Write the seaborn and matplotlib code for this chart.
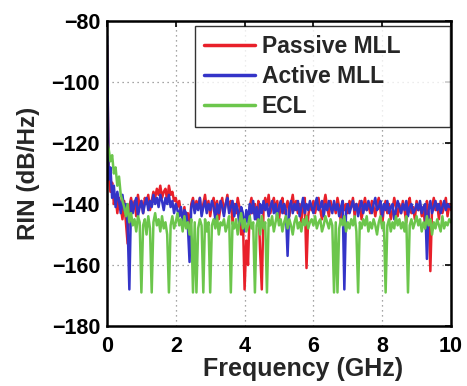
import numpy as np
import pandas as pd
import matplotlib
matplotlib.use("Agg")
import matplotlib.pyplot as plt
import seaborn as sns

# ---------------- data ----------------
freq_ghz = [round(0.05 * i, 2) for i in range(201)]

passive_mll = [
    -88, -130, -136, -133, -140, -137, -143, -138, -141, -145,
    -139, -146, -153, -141, -138, -142, -139, -144, -137, -141,
    -139, -143, -138, -140, -137, -142, -139, -136, -138, -135,
    -137, -134, -138, -136, -135, -139, -134, -137, -136, -139,
    -138, -141, -139, -143, -145, -141, -146, -143, -148, -140,
    -138, -142, -139, -141, -138, -143, -140, -137, -142, -139,
    -144, -140, -138, -142, -139, -145, -141, -138, -143, -140,
    -137, -142, -139, -146, -140, -143, -138, -141, -150, -144,
    -168, -152, -160, -141, -138, -143, -140, -145, -139, -155,
    -168, -142, -138, -141, -137, -143, -140, -138, -142, -139,
    -145, -140, -138, -143, -141, -139, -144, -140, -137, -142,
    -139, -143, -140, -146, -141, -138, -161, -144, -140, -142,
    -139, -143, -140, -138, -142, -145, -140, -137, -141, -144,
    -139, -142, -140, -143, -138, -141, -146, -139, -142, -140,
    -143, -139, -141, -138, -144, -140, -142, -139, -145, -141,
    -138, -142, -140, -143, -139, -141, -144, -140, -138, -142,
    -147, -141, -139, -143, -140, -145, -142, -138, -141, -144,
    -140, -143, -139, -142, -146, -140, -138, -143, -141, -145,
    -139, -142, -140, -144, -141, -148, -139, -143, -162, -141,
    -138, -142, -140, -145, -139, -143, -141, -138, -144, -140,
    -142,
]

active_mll = [
    -85, -132, -128, -138, -134, -141, -136, -139, -143, -137,
    -142, -140, -147, -168, -139, -143, -140, -138, -144, -141,
    -139, -143, -140, -138, -142, -139, -141, -137, -140, -138,
    -141, -137, -139, -142, -138, -140, -137, -141, -139, -143,
    -140, -142, -144, -141, -146, -142, -143, -147, -159, -141,
    -139, -143, -140, -142, -138, -144, -141, -139, -143, -140,
    -142, -139, -141, -145, -140, -143, -139, -141, -144, -140,
    -138, -143, -141, -139, -144, -140, -142, -147, -141, -143,
    -149, -142, -146, -140, -143, -139, -145, -141, -147, -140,
    -143, -139, -142, -140, -144, -141, -139, -143, -140, -145,
    -141, -139, -143, -140, -142, -157, -141, -139, -143, -140,
    -142, -139, -144, -141, -138, -143, -140, -142, -139, -141,
    -143, -140, -138, -142, -141, -139, -144, -140, -142, -139,
    -141, -143, -139, -142, -140, -144, -141, -139, -168, -142,
    -140, -143, -141, -139, -142, -140, -144, -141, -139, -143,
    -140, -142, -139, -141, -143, -140, -138, -142, -141, -139,
    -144, -140, -142, -139, -143, -141, -140, -145, -142, -139,
    -141, -143, -140, -142, -139, -144, -141, -140, -143, -142,
    -140, -142, -139, -143, -141, -140, -158, -142, -139, -143,
    -141, -139, -142, -140, -143, -141, -139, -142, -140, -141,
    -141,
]

ecl = [
    -120, -122, -126, -124, -130, -128, -134, -131, -137, -139,
    -141, -144, -140, -146, -143, -147, -145, -149, -144, -146,
    -169, -147, -145, -150, -144, -148, -169, -146, -143, -147,
    -145, -149, -144, -148, -146, -150, -169, -147, -144, -148,
    -146, -143, -147, -145, -149, -144, -148, -146, -150, -145,
    -169, -146, -169, -148, -145, -147, -169, -145, -149, -146,
    -169, -147, -145, -148, -144, -150, -146, -147, -145, -149,
    -147, -144, -169, -146, -148, -145, -150, -146, -143, -148,
    -145, -149, -147, -144, -148, -146, -169, -147, -145, -150,
    -144, -148, -146, -169, -145, -147, -144, -149, -146, -143,
    -147, -145, -149, -146, -144, -148, -145, -147, -150, -146,
    -144, -148, -146, -149, -145, -147, -144, -148, -146, -145,
    -147, -144, -148, -146, -145, -149, -147, -144, -146, -148,
    -145, -147, -169, -146, -169, -148, -145, -147, -144, -149,
    -146, -148, -145, -147, -144, -149, -169, -146, -148, -145,
    -147, -144, -149, -146, -148, -145, -147, -150, -146, -144,
    -148, -146, -169, -147, -145, -149, -146, -148, -144, -147,
    -145, -148, -146, -149, -144, -169, -147, -145, -148, -146,
    -144, -147, -145, -149, -146, -148, -144, -147, -145, -150,
    -146, -148, -145, -147, -149, -144, -148, -146, -147, -145,
    -146,
]

series_names = ["Passive MLL", "Active MLL", "ECL"]
series_colors = ["#e8202a", "#3434c8", "#6cc64c"]
x_ticks = [0, 2, 4, 6, 8, 10]
y_ticks = [-180, -160, -140, -120, -100, -80]

df = pd.DataFrame({
    "Frequency": freq_ghz * 3,
    "RIN": passive_mll + active_mll + ecl,
    "Laser": [series_names[0]] * len(freq_ghz)
             + [series_names[1]] * len(freq_ghz)
             + [series_names[2]] * len(freq_ghz),
})

# ---------------- style ----------------
sns.set_style("white")
plt.rcParams["font.family"] = ["Liberation Sans", "DejaVu Sans"]
plt.rcParams["font.weight"] = "bold"
plt.rcParams["axes.unicode_minus"] = True

fig = plt.figure(figsize=(4.67, 3.86), dpi=100)
ax = fig.add_axes([0.2291, 0.1554, 0.7366, 0.7902])

sns.lineplot(data=df, x="Frequency", y="RIN", hue="Laser",
             hue_order=series_names, palette=series_colors,
             estimator=None, sort=False, linewidth=1.8, ax=ax)

ax.set_xlim(0, 10)
ax.set_ylim(-180, -80)
ax.set_xticks(x_ticks)
ax.set_yticks(y_ticks)
ax.set_xticklabels([str(t) for t in x_ticks], fontsize=15.5, fontweight="bold")
ax.set_yticklabels([str(t).replace("-", "\u2212") for t in y_ticks],
                   fontsize=15.5, fontweight="bold")
ax.set_xlabel("Frequency (GHz)", fontsize=18, fontweight="bold")
ax.set_ylabel("RIN (dB/Hz)", fontsize=17.5, fontweight="bold")
ax.xaxis.set_label_coords(0.569, -0.101)
ax.yaxis.set_label_coords(-0.195, 0.5)

ax.grid(True, linestyle=(0, (1, 3)), color="#888888", linewidth=0.9)
ax.tick_params(axis="both", direction="in", length=4, width=1.2,
               top=True, right=True, colors="black")
ax.tick_params(axis="x", pad=7)
ax.tick_params(axis="y", pad=5)
for s in ax.spines.values():
    s.set_color("black")
    s.set_linewidth(1.8)

leg = ax.legend(loc="upper left", bbox_to_anchor=(0.2566, 0.70, 0.74, 0.2837),
                mode="expand", borderaxespad=0, frameon=True, fancybox=False,
                prop={"weight": "bold", "size": 16.5},
                handlelength=2.2, handletextpad=0.3, labelspacing=0.3,
                borderpad=0.4)
leg.get_frame().set_edgecolor("black")
leg.get_frame().set_linewidth(1.0)
for line in leg.get_lines():
    line.set_linewidth(2.5)

fig.savefig("out.png", dpi=100)
